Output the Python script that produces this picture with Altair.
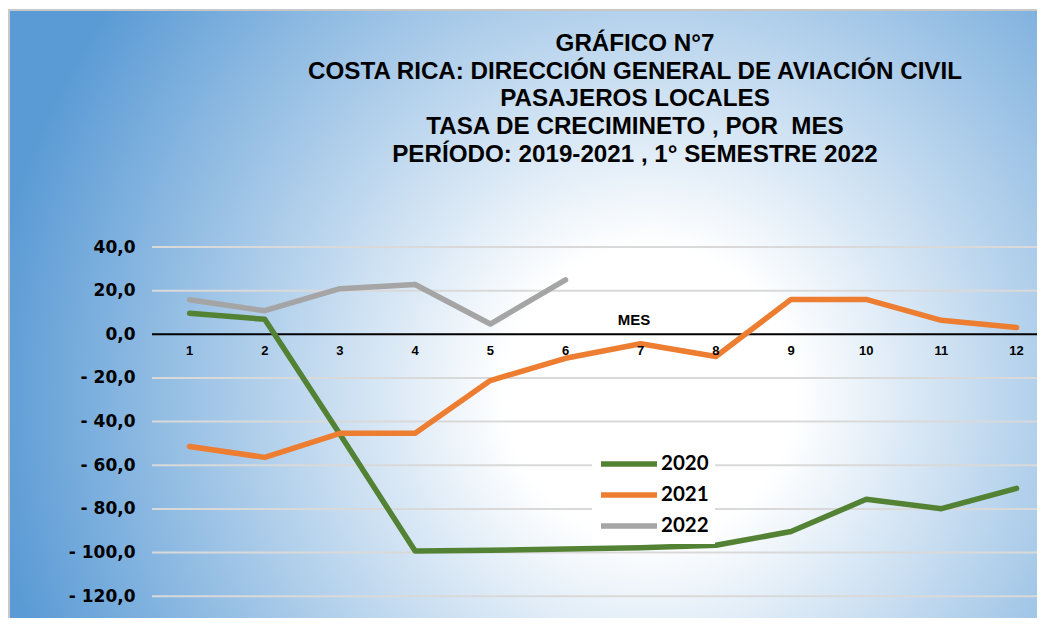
import altair as alt
import pandas as pd

months = list(range(1, 13))
years = ["2020", "2021", "2022"]
v2020 = [9.6, 6.9, -45.8, -99.3, -99.0, -98.4, -97.8, -96.7, -90.4, -75.6, -79.9, -70.6]
v2021 = [-51.4, -56.4, -45.4, -45.4, -21.2, -11.0, -4.3, -10.2, 16.0, 16.0, 6.4, 3.1]
v2022 = [15.8, 10.8, 20.9, 22.8, 4.7, 24.9]
colors = ["#548235", "#ED7D31", "#A5A5A5"]
y_ticks = [40, 20, 0, -20, -40, -60, -80, -100, -120]
title_lines = [
    "GRÁFICO N°7",
    "COSTA RICA: DIRECCIÓN GENERAL DE AVIACIÓN CIVIL",
    "PASAJEROS LOCALES",
    "TASA DE CRECIMINETO , POR\u00a0 MES",
    "PERÍODO: 2019-2021 , 1° SEMESTRE 2022",
]
x_title = "MES"

rows = []
for yr, vals in zip(years, [v2020, v2021, v2022]):
    for m, v in zip(months, vals):
        rows.append({"mes": m, "anio": yr, "valor": v})
df = pd.DataFrame(rows)
df_months = pd.DataFrame({"mes": months, "zero": [0] * len(months), "lab": [str(m) for m in months]})
df_grid = pd.DataFrame({"g": [t for t in y_ticks if t != 0]})
df_zero = pd.DataFrame({"z": [0]})
df_one = pd.DataFrame({"a": [0]})
df_title = pd.DataFrame({"i": list(range(len(title_lines))), "t": title_lines})

W, H = 885, 371
xscale = alt.Scale(domain=[0.5, 0.5 + W / 75.18], nice=False, zero=False)
yscale = alt.Scale(domain=[-130, 40], nice=False, zero=False)

yaxis = alt.Axis(
    title=None, values=y_ticks, domain=False, ticks=False, grid=False,
    labelFont="DejaVu Sans", labelFontSize=17, labelFontWeight="bold",
    labelColor="#000000", labelPadding=17, zindex=1,
    labelExpr="datum.value < 0 ? '- ' + replace(format(-datum.value, '.1f'), '.', ',') : replace(format(datum.value, '.1f'), '.', ',')",
)

grad = {
    "gradient": "radial",
    "x1": 0.6, "y1": 0.48, "r1": 0,
    "x2": 0.6, "y2": 0.48, "r2": 0.62,
    "stops": [
        {"offset": 0, "color": "#ffffff"},
        {"offset": 0.22, "color": "#ffffff"},
        {"offset": 1, "color": "#5b9bd5"},
    ],
}

bg = alt.Chart(df_one).mark_rect(fill=grad, stroke="#c8c8c8", strokeWidth=2).encode(
    x=alt.value(-143), x2=alt.value(W + 40), y=alt.value(-237), y2=alt.value(H + 200)
)

grid = alt.Chart(df_grid).mark_rule(color="#d9d9d9", strokeWidth=2).encode(
    y=alt.Y("g:Q", scale=yscale, axis=yaxis)
)

zero = alt.Chart(df_zero).mark_rule(color="#000000", strokeWidth=2).encode(
    y=alt.Y("z:Q", scale=yscale, axis=yaxis)
)

lines = alt.Chart(df).mark_line(strokeWidth=5.5, strokeCap="round", strokeJoin="round").encode(
    x=alt.X("mes:Q", scale=xscale, axis=None),
    y=alt.Y("valor:Q", scale=yscale, axis=yaxis),
    color=alt.Color(
        "anio:N",
        scale=alt.Scale(domain=years, range=colors),
        legend=alt.Legend(
            title=None, orient="none", legendX=440, legendY=199,
            symbolType="stroke", symbolStrokeWidth=5.5, symbolSize=3136,
            labelFont="Lato", labelFontSize=20.5, labelFontWeight="bold", labelColor="#000000",
            labelOffset=1, fillColor="#ffffff", padding=6, rowPadding=7, clipHeight=24,
            zindex=1,
        ),
    ),
    order="mes:Q",
)

xlabels = alt.Chart(df_months).mark_text(
    font="Liberation Sans", fontSize=13, fontWeight="bold", color="#000000", dy=17
).encode(
    x=alt.X("mes:Q", scale=xscale, axis=None),
    y=alt.Y("zero:Q", scale=yscale, axis=yaxis),
    text="lab:N",
)

mes = alt.Chart(df_one).mark_text(
    text=x_title, font="Liberation Sans", fontSize=15, fontWeight="bold", color="#000000"
).encode(x=alt.value(482), y=alt.value(73))

title = alt.Chart(df_title).transform_calculate(
    ty="datum.i * 27.7 - 203"
).mark_text(
    font="Liberation Sans", fontSize=24.2, fontWeight="bold", color="#000000",
    align="center", baseline="middle",
).encode(
    x=alt.value(483),
    y=alt.Y("ty:Q", scale=None),
    text="t:N",
)

chart = alt.layer(bg, grid, zero, lines, xlabels, mes, title).properties(
    width=W,
    height=H,
    padding={"left": 144, "top": 239, "right": 0, "bottom": 0},
    autosize=alt.AutoSizeParams(type="none"),
).configure_view(stroke="transparent")

chart.save("out.html", embed_options={"renderer": "svg", "actions": False})
